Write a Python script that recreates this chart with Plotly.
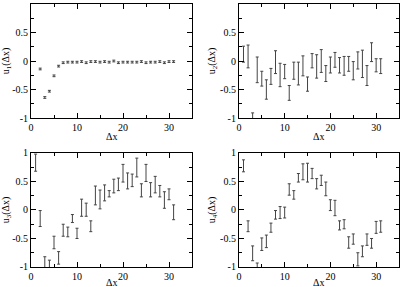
import plotly.graph_objects as go

dx1 = list(range(2, 32))
u1 = [-0.14, -0.64, -0.53, -0.26, -0.09, -0.03, -0.02, -0.02, -0.02, -0.01, -0.03, -0.01,
      -0.01, -0.02, -0.01, -0.02, 0.0, -0.03, -0.02, -0.02, -0.02, -0.02, -0.01, -0.03,
      -0.02, -0.02, -0.01, -0.03, -0.01, -0.01]
e1 = [0.015] * len(u1)

dx = list(range(1, 32))
u2 = [0.12, 0.08, -1.0, -0.155, -0.31, -0.50, -0.27, -0.02, -0.245, -0.185, -0.56, -0.17,
      -0.22, -0.085, -0.405, 0.005, -0.095, 0.0, -0.22, -0.07, 0.02, -0.075, -0.085, -0.05,
      -0.17, 0.01, -0.05, -0.255, 0.155, -0.075, -0.09]
e2 = [0.14, 0.20, 0.09, 0.225, 0.13, 0.17, 0.14, 0.20, 0.205, 0.125, 0.13, 0.15, 0.20,
      0.175, 0.125, 0.125, 0.205, 0.20, 0.14, 0.14, 0.13, 0.135, 0.165, 0.13, 0.16, 0.15,
      0.24, 0.175, 0.165, 0.115, 0.13]
u3 = [0.83, -0.15, -0.96, -0.99, -0.57, -0.84, -0.355, -0.385, -0.15, -0.41, 0.04, 0.005,
      -0.285, 0.255, 0.185, 0.30, 0.285, 0.42, 0.45, 0.645, 0.51, 0.52, 0.745, 0.345, 0.65,
      0.355, 0.445, 0.33, 0.175, 0.275, -0.04]
e3 = [0.15, 0.14, 0.14, 0.11, 0.11, 0.11, 0.105, 0.085, 0.07, 0.09, 0.15, 0.115, 0.095,
      0.165, 0.165, 0.14, 0.055, 0.12, 0.11, 0.155, 0.14, 0.11, 0.165, 0.115, 0.15, 0.125,
      0.145, 0.10, 0.145, 0.095, 0.13]
u4 = [0.775, -0.285, -0.76, -1.015, -0.60, -0.55, -0.31, -0.085, -0.045, -0.045, 0.36,
      0.265, 0.565, 0.67, 0.655, 0.64, 0.46, 0.52, 0.37, 0.085, 0.035, -0.27, -0.25, -0.57,
      -0.51, -0.865, -0.725, -0.52, -0.585, -0.305, -0.29]
e4 = [0.105, 0.095, 0.13, 0.085, 0.11, 0.11, 0.08, 0.075, 0.105, 0.095, 0.10, 0.075, 0.075,
      0.14, 0.165, 0.09, 0.09, 0.09, 0.12, 0.095, 0.135, 0.08, 0.08, 0.10, 0.09, 0.115,
      0.095, 0.10, 0.085, 0.105, 0.10]

x_ticks = [0, 10, 20, 30]
y_ticks = [-1, -0.5, 0, 0.5, 1]
y_labels = ["-1", "-0.5", "0", "0.5", "1"]
titles = ["u<sub>1</sub>(Δx)", "u<sub>2</sub>(Δx)", "u<sub>3</sub>(Δx)", "u<sub>4</sub>(Δx)"]
x_title = "Δx"

series = [(dx1, u1, e1), (dx, u2, e2), (dx, u3, e3), (dx, u4, e4)]

fig = go.Figure()
font = dict(family="Liberation Serif", size=10, color="black")
tfont = dict(family="Liberation Serif", size=10, color="black")
xdom = [[0, 0.4375], [0.565, 1]]
ydom = [[0.5665, 1], [0, 0.4335]]
xtitle_y = [0.497, -0.058]

for i, (xs, ys, es) in enumerate(series):
    n = i + 1
    fig.add_trace(go.Scatter(
        x=xs, y=ys, mode="markers",
        marker=dict(size=1, color="rgba(0,0,0,0)"),
        error_y=dict(type="data", array=es, visible=True, color="#444444",
                     thickness=1, width=1.5),
        xaxis=f"x{n}", yaxis=f"y{n}", showlegend=False, hoverinfo="skip"))
    row, col = divmod(i, 2)
    xa = dict(domain=xdom[col], range=[0, 35], tickvals=x_ticks,
              ticks="inside", ticklen=5, tickwidth=1, tickcolor="black",
              minor=dict(dtick=5, ticks="inside", ticklen=3, tickcolor="black"),
              showline=True, linecolor="black", linewidth=1, mirror="allticks",
              showgrid=False, zeroline=False, tickfont=font, automargin=False,
              anchor=f"y{n}")
    ya = dict(domain=ydom[row], range=[-1, 1], tickvals=y_ticks, ticktext=y_labels,
              ticks="inside", ticklen=5, tickwidth=1, tickcolor="black",
              minor=dict(dtick=0.25, ticks="inside", ticklen=3, tickcolor="black"),
              showline=True, linecolor="black", linewidth=1, mirror="allticks",
              showgrid=False, zeroline=False, tickfont=font, automargin=False,
              title=dict(text=titles[i], font=tfont, standoff=2),
              anchor=f"x{n}")
    fig.layout[f"xaxis{n}" if n > 1 else "xaxis"] = xa
    fig.layout[f"yaxis{n}" if n > 1 else "yaxis"] = ya
    fig.add_annotation(text=x_title, xref="paper", yref="paper",
                       x=(xdom[col][0] + xdom[col][1]) / 2, y=xtitle_y[row],
                       xanchor="center", yanchor="middle", showarrow=False, font=tfont)

fig.update_layout(width=400, height=287, margin=dict(l=31, r=1, t=4, b=20),
                  plot_bgcolor="white", paper_bgcolor="white")
fig.write_html("out.html", config={"displayModeBar": False},
               post_script="document.body.style.margin='0';document.body.style.overflow='hidden';")
